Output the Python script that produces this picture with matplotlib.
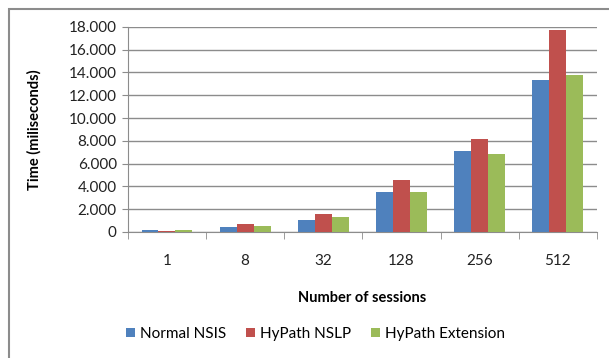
import numpy as np
import matplotlib.pyplot as plt
from matplotlib.patches import Rectangle
from matplotlib.ticker import FuncFormatter

plt.rcParams['font.family'] = ['Lato', 'DejaVu Sans']

sessions = ['1', '8', '32', '128', '256', '512']
normal_nsis = [170, 440, 1050, 3480, 7100, 13300]
hypath_nslp = [100, 730, 1600, 4570, 8140, 17750]
hypath_ext = [150, 500, 1300, 3480, 6870, 13750]

series = [
    ('Normal NSIS', normal_nsis, '#4F81BD'),
    ('HyPath NSLP', hypath_nslp, '#C0504D'),
    ('HyPath Extension', hypath_ext, '#9BBB59'),
]

fig = plt.figure(figsize=(6.09, 3.58), dpi=100)
ax = fig.add_axes([0.210, 0.352, 0.770, 0.573])

x = np.arange(len(sessions))
w = 0.217
for i, (name, vals, col) in enumerate(series):
    ax.bar(x + (i - 1) * w, vals, width=w, color=col, label=name, zorder=3)

ax.set_xlim(-0.5, len(sessions) - 0.5)
ax.set_ylim(0, 18000)
ax.set_yticks(np.arange(0, 18001, 2000))
ax.yaxis.set_major_formatter(FuncFormatter(lambda v, p: f'{int(v):,}'.replace(',', '.')))
ax.grid(axis='y', color='#8c8c8c', linewidth=1, zorder=0)

ax.set_xticks(x)
ax.set_xticklabels(sessions)
ax.set_xticks(np.arange(-0.5, len(sessions)), minor=True)
ax.tick_params(axis='x', which='major', length=0, pad=16, labelsize=11, labelcolor='#222222')
ax.tick_params(axis='x', which='minor', length=5, color='#8c8c8c')
ax.tick_params(axis='y', length=4, color='#8c8c8c', labelsize=11, pad=4, labelcolor='#222222')

for s in ['top', 'right']:
    ax.spines[s].set_visible(False)
for s in ['left', 'bottom']:
    ax.spines[s].set_color('#8c8c8c')

ax.set_ylabel('Time (miliseconds)', fontsize=10.5, fontweight='bold')
ax.yaxis.set_label_coords(-0.183, 0.5)
ax.set_xlabel('Number of sessions', fontsize=10.5, fontweight='bold')
ax.xaxis.set_label_coords(0.5, -0.288)

fig.legend(loc='center', bbox_to_anchor=(0.518, 0.067), ncol=3, frameon=False,
           fontsize=11, handlelength=0.6, handleheight=0.6, handletextpad=0.3,
           columnspacing=1.3)

fig.patches.append(Rectangle((0.0148, -0.05), 1.1, 0.975 + 0.05, transform=fig.transFigure,
                             fill=False, edgecolor='#8c8c8c', linewidth=1.5))

fig.savefig('out.png', dpi=100)
